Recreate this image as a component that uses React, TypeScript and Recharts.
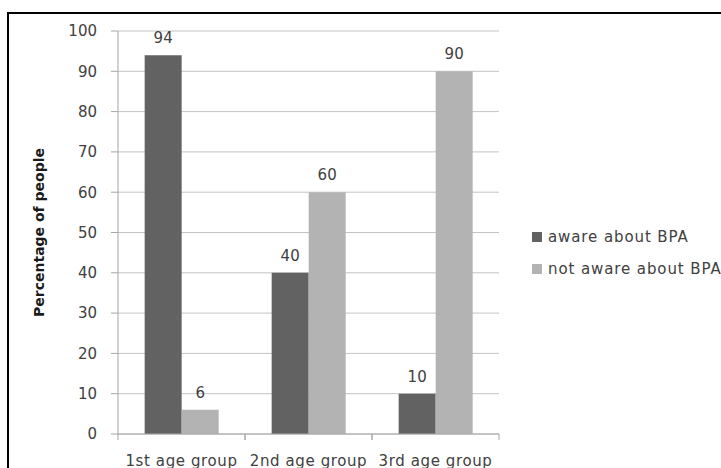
import { BarChart, Bar, XAxis, YAxis, CartesianGrid, Legend, LabelList } from 'recharts'

const CATEGORIES = ['1st age group', '2nd age group', '3rd age group']
const AWARE = [94, 40, 10]
const NOT_AWARE = [6, 60, 90]
const Y_TICKS = [0, 10, 20, 30, 40, 50, 60, 70, 80, 90, 100]
const SERIES = ['aware about BPA', 'not aware about BPA']

const COLORS = ['#626262', '#b3b3b3']
const FONT = '"DejaVu Sans", sans-serif'
const TEXT = '#404040'
const AXIS = '#a6a6a6'

const data = CATEGORIES.map((name, i) => ({ name, aware: AWARE[i], notAware: NOT_AWARE[i] }))

// category label plus the little boundary ticks Excel draws between groups
function CategoryTick(props: any) {
  const { x, y, payload } = props
  const half = payload?.offset || 63.5
  return (
    <g>
      <line x1={x - half} x2={x - half} y1={y} y2={y + 6} stroke={AXIS} />
      <line x1={x + half} x2={x + half} y1={y} y2={y + 6} stroke={AXIS} />
      <text x={x} y={y + 32} textAnchor="middle" fill={TEXT} fontSize={15} fontFamily={FONT} letterSpacing={0.6}>
        {payload.value}
      </text>
    </g>
  )
}

function YLabel(props: any) {
  const vb = props.viewBox || { y: 31, height: 403 }
  const cy = vb.y + vb.height / 2
  return (
    <text
      x={39}
      y={cy}
      transform={`rotate(-90, 39, ${cy})`}
      textAnchor="middle"
      dominantBaseline="central"
      fill="#1a1a1a"
      fontSize={14}
      fontWeight="bold"
      fontFamily={FONT}
    >
      Percentage of people
    </text>
  )
}

function LegendBox(props: any) {
  const items = props.payload || []
  return (
    <div style={{ fontFamily: FONT, fontSize: 15, color: TEXT, letterSpacing: 0.9 }}>
      {items.map((it: any) => (
        <div key={it.value} style={{ display: 'flex', alignItems: 'center', height: 32, whiteSpace: 'nowrap' }}>
          <span style={{ width: 10, height: 10, background: it.color, marginRight: 6, flex: 'none' }} />
          {it.value}
        </div>
      ))}
    </div>
  )
}

export default function App() {
  return (
    <div style={{ position: 'absolute', left: 0, top: 0, width: 721, height: 468, overflow: 'hidden', background: '#fff' }}>
      <div
        style={{
          position: 'absolute',
          left: 7,
          top: 12,
          width: 714,
          height: 470,
          borderTop: '2px solid #000',
          borderLeft: '2px solid #000',
        }}
      />
      <div style={{ position: 'absolute', left: 0, top: 0 }}>
        <BarChart
          width={721}
          height={468}
          data={data}
          margin={{ top: 31, right: 222, bottom: 0, left: 0 }}
          barCategoryGap="21%"
          barGap={0}
        >
          <CartesianGrid vertical={false} stroke="#c4c4c4" />
          <XAxis
            dataKey="name"
            height={34}
            axisLine={{ stroke: AXIS }}
            tickLine={false}
            tickSize={0}
            tickMargin={0}
            tick={<CategoryTick />}
            interval={0}
          />
          <YAxis
            width={118}
            domain={[0, 100]}
            ticks={Y_TICKS}
            axisLine={{ stroke: AXIS }}
            tickLine={{ stroke: AXIS }}
            tickSize={7}
            tickMargin={14}
            tick={{ fill: TEXT, fontSize: 15, fontFamily: FONT }}
            label={{ content: <YLabel /> }}
          />
          <Legend
            layout="vertical"
            align="center"
            verticalAlign="middle"
            wrapperStyle={{ left: 532, top: 221, width: 200 }}
            content={<LegendBox />}
          />
          <Bar dataKey="aware" name={SERIES[0]} fill={COLORS[0]} isAnimationActive={false}>
            <LabelList dataKey="aware" position="top" offset={12} fill={TEXT} fontSize={15} fontFamily={FONT} />
          </Bar>
          <Bar dataKey="notAware" name={SERIES[1]} fill={COLORS[1]} isAnimationActive={false}>
            <LabelList dataKey="notAware" position="top" offset={12} fill={TEXT} fontSize={15} fontFamily={FONT} />
          </Bar>
        </BarChart>
      </div>
    </div>
  )
}
